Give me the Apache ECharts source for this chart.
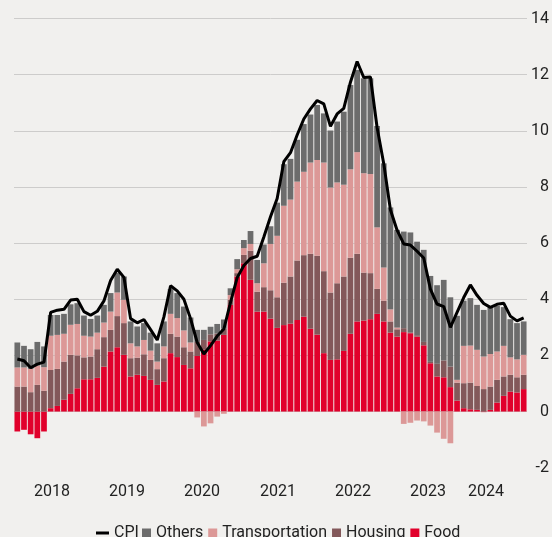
<!DOCTYPE html>
<html>
<head>
<meta charset="utf-8">
<script src="https://cdn.jsdelivr.net/npm/echarts@6/dist/echarts.min.js"></script>
<style>
  html, body { margin: 0; padding: 0; background: #f1f0ee; }
  #chartmain { width: 552px; height: 537px; }
</style>
</head>
<body>
<div id="chartmain"></div>
<script>
// monthly, Jan 2018 .. May 2024
var months = [];
for (var y = 2018; y <= 2024; y++) {
	for (var m = 1; m <= 12; m++) {
		if (y === 2024 && m > 5) break;
		months.push(y + '-' + (m < 10 ? '0' + m : m));
	}
}

var cpi = [1.87, 1.81, 1.56, 1.69, 1.76, 3.53, 3.61, 3.64, 3.97, 4.00, 3.56, 3.43,
	3.57, 3.94, 4.67, 5.07, 4.78, 3.31, 3.16, 3.28, 2.92, 2.55, 3.37, 4.48,
	4.30, 4.00, 3.31, 2.46, 2.05, 2.35, 2.69, 2.94, 3.89, 4.77, 5.20, 5.45,
	5.53, 6.22, 6.94, 7.59, 8.90, 9.22, 9.85, 10.42, 10.78, 11.08, 10.96, 10.16,
	10.60, 10.80, 11.73, 12.47, 11.90, 11.92, 10.12, 8.83, 7.19, 6.46, 5.97, 5.93,
	5.71, 5.47, 4.36, 3.83, 3.74, 3.00, 3.53, 4.06, 4.51, 4.14, 3.85, 3.71,
	3.82, 3.86, 3.40, 3.23, 3.34];

var food = [-0.71, -0.65, -0.81, -0.95, -0.71, 0.12, 0.20, 0.42, 0.63, 0.83, 1.15, 1.15,
	1.20, 1.60, 2.14, 2.29, 2.02, 1.25, 1.31, 1.27, 1.13, 0.95, 1.07, 2.08,
	1.94, 1.66, 1.54, 1.98, 2.20, 2.50, 2.53, 2.73, 3.80, 4.81, 5.28, 4.69,
	3.56, 3.56, 3.31, 2.98, 3.08, 3.13, 3.26, 3.38, 2.95, 2.74, 2.08, 1.84,
	1.86, 2.16, 2.77, 3.21, 3.24, 3.29, 3.48, 3.21, 2.81, 2.67, 2.83, 2.79,
	2.67, 2.36, 1.72, 1.25, 1.22, 0.87, 0.39, 0.12, 0.08, 0.06, -0.02, 0.06,
	0.32, 0.56, 0.71, 0.68, 0.80];

var housing = [0.89, 0.89, 0.69, 0.95, 0.74, 1.36, 1.32, 1.36, 1.39, 1.17, 0.78, 0.81,
	1.02, 1.05, 0.77, 1.11, 1.13, 0.65, 0.61, 0.77, 0.71, 0.56, 0.83, 0.69,
	0.73, 0.63, 0.60, 0.50, 0.35, 0.25, 0.25, 0.22, 0.18, 0.12, 0.30, 1.04,
	0.71, 0.87, 1.01, 1.09, 1.51, 1.68, 2.12, 2.19, 2.67, 2.81, 2.92, 2.40,
	2.71, 2.65, 2.71, 2.41, 1.71, 1.64, 0.89, 0.74, 0.40, 0.26, 0.14, 0.03,
	0.05, 0.12, 0.05, 0.45, 0.60, 0.73, 0.64, 0.89, 0.95, 0.85, 0.80, 0.83,
	0.81, 0.69, 0.60, 0.54, 0.51];

var transport = [0.68, 0.68, 0.83, 0.69, 0.84, 1.22, 1.21, 0.99, 1.07, 1.12, 0.77, 0.71,
	0.59, 0.52, 0.65, 0.84, 0.83, 0.53, 0.40, 0.51, 0.33, 0.27, 0.42, 0.71,
	0.66, 0.60, 0.32, -0.21, -0.53, -0.42, -0.18, -0.08, 0.17, 0.14, 0.24, 0.24,
	0.30, 0.85, 1.65, 2.19, 2.74, 2.74, 2.81, 2.97, 3.25, 3.41, 3.87, 3.74,
	3.59, 3.27, 3.15, 3.62, 3.54, 3.53, 2.19, 1.18, 0.43, 0.06, -0.44, -0.40,
	-0.32, -0.35, -0.50, -0.75, -0.97, -1.13, 0.10, 1.33, 1.32, 1.29, 1.16, 1.16,
	1.01, 1.09, 0.62, 0.64, 0.71];

var others = [0.89, 0.77, 0.70, 0.84, 0.74, 0.74, 0.71, 0.71, 0.73, 0.74, 0.72, 0.63,
	0.61, 0.63, 0.66, 0.70, 0.83, 0.78, 0.71, 0.60, 0.64, 0.65, 0.89, 0.88,
	0.89, 0.85, 0.89, 0.43, 0.36, 0.27, 0.34, 0.33, 0.24, 0.36, 0.29, 0.46,
	0.83, 0.67, 0.63, 1.18, 1.48, 1.45, 1.49, 1.70, 1.71, 1.96, 1.75, 2.03,
	2.17, 2.60, 3.00, 2.93, 3.38, 3.41, 3.61, 3.71, 3.63, 3.48, 3.44, 3.56,
	3.33, 3.28, 3.06, 2.80, 2.87, 2.47, 2.28, 1.61, 1.69, 1.60, 1.66, 1.66,
	1.62, 1.38, 1.36, 1.29, 1.19];

// year labels and where they sit, in months from the left edge
var yearLabels = ['2018', '2019', '2020', '2021', '2022', '2023', '2024'];
var yearPos = [5.7, 16.96, 28.22, 39.63, 50.89, 62.14, 70.85];

var yTicks = [-2, 14, 2];

var FONT = "Roboto, 'Noto Sans', sans-serif";
var legendText = {
	fontSize : 16,
	color : '#222',
	fontFamily : FONT,
	lineHeight : 16
};

var option = {
	backgroundColor : '#f1f0ee',
	animation : false,
	textStyle : {
		fontFamily : FONT
	},
	grid : {
		left : 14,
		right : 25,
		top : 18.5,
		bottom : 69.3
	},
	legend : [ {
		// line entry, wider key
		left : 91,
		top : 520,
		itemWidth : 13,
		itemHeight : 3,
		icon : 'rect',
		textStyle : legendText,
		data : [ 'CPI' ]
	}, {
		left : 137,
		top : 520,
		itemWidth : 9,
		itemHeight : 9,
		itemGap : 5,
		icon : 'rect',
		textStyle : legendText,
		data : [ 'Others', 'Transportation', 'Housing', 'Food' ]
	} ],
	xAxis : [ {
		type : 'category',
		data : months,
		axisLine : { show : false },
		axisTick : { show : false },
		axisLabel : { show : false },
		splitLine : { show : false }
	}, {
		type : 'value',
		position : 'bottom',
		min : 0,
		max : months.length,
		axisLine : { show : false },
		axisTick : { show : false },
		splitLine : { show : false },
		axisLabel : {
			customValues : yearPos,
			margin : 16,
			fontSize : 16,
			color : '#222',
			formatter : function(v) {
				var best = 0;
				for (var i = 1; i < yearPos.length; i++) {
					if (Math.abs(yearPos[i] - v) < Math.abs(yearPos[best] - v)) best = i;
				}
				return yearLabels[best];
			}
		}
	} ],
	yAxis : {
		type : 'value',
		position : 'right',
		min : yTicks[0],
		max : yTicks[1],
		interval : yTicks[2],
		axisLine : { show : false },
		axisTick : { show : false },
		axisLabel : {
			align : 'right',
			margin : 22,
			fontSize : 16,
			color : '#222'
		},
		splitLine : {
			showMinLine : false,
			lineStyle : { color : '#cdcccb', width : 1 }
		}
	},
	series : [ {
		name : 'Food',
		type : 'bar',
		stack : 'total',
		barCategoryGap : '14%',
		itemStyle : { color : '#e1002b' },
		data : food
	}, {
		name : 'Housing',
		type : 'bar',
		stack : 'total',
		itemStyle : { color : '#83585a' },
		data : housing
	}, {
		name : 'Transportation',
		type : 'bar',
		stack : 'total',
		itemStyle : { color : '#dc9897' },
		data : transport
	}, {
		name : 'Others',
		type : 'bar',
		stack : 'total',
		itemStyle : { color : '#6c6c6c' },
		data : others
	}, {
		name : 'CPI',
		type : 'line',
		symbol : 'none',
		z : 5,
		lineStyle : { color : '#000', width : 3 },
		itemStyle : { color : '#000' },
		data : cpi
	} ]
};

var myChart = echarts.init(document.getElementById('chartmain'));
myChart.setOption(option);
</script>
</body>
</html>
